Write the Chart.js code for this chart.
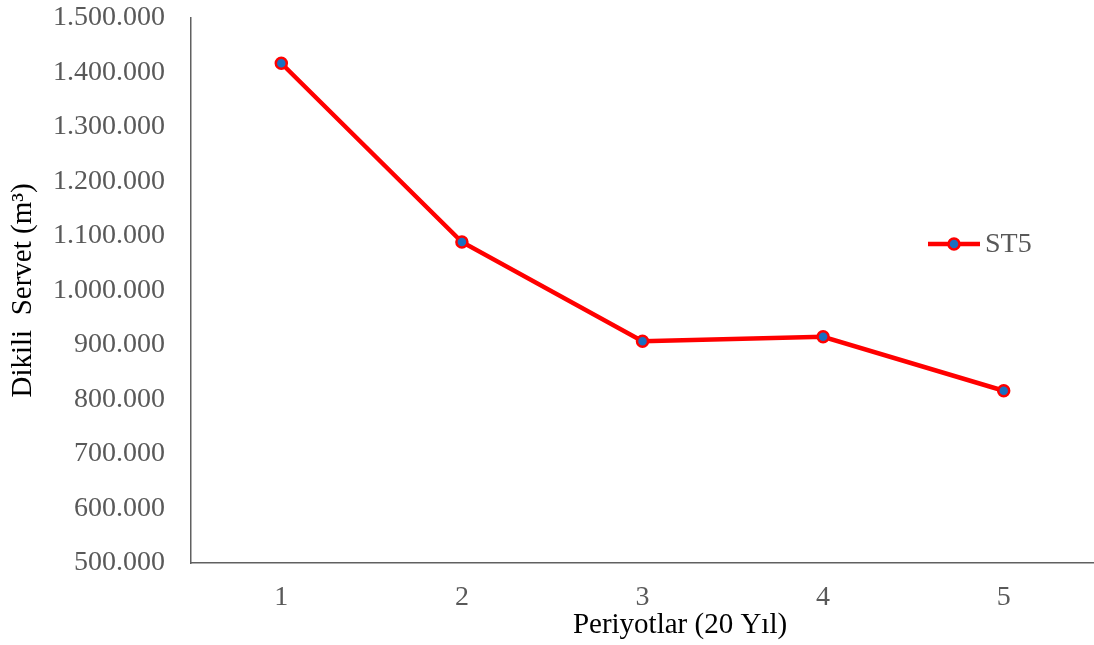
<!DOCTYPE html>
<html lang="tr">
<head>
  <meta charset="UTF-8" />
  <title>Dikili Servet - ST5</title>
  <script src="https://cdn.jsdelivr.net/npm/chart.js"></script>
  <style>
    html, body { margin: 0; padding: 0; background: #fff; }
    #wrap { width: 1094px; height: 645px; }
  </style>
</head>
<body>
<div id="wrap"><canvas id="chart"></canvas></div>
<script>
  // Daten
  const periods = ['1', '2', '3', '4', '5'];
  const st5 = [1417000, 1089000, 907000, 915000, 816000];
  const seriesName = 'ST5';
  const xTitle = 'Periyotlar (20 Yıl)';
  const yTitle = 'Dikili  Servet (m³)';

  const serif = '"Liberation Serif", "Times New Roman", serif';
  const grey = '#595959';

  function fmt(v) {
    return v.toString().replace(/\B(?=(\d{3})+(?!\d))/g, '.');
  }

  // Legende innerhalb der Plotfläche + x-Titel (leicht nach rechts versetzt wie im Original)
  const extras = {
    id: 'extras',
    afterDraw(chart) {
      const ctx = chart.ctx;
      const x0 = 928, x1 = 980, y = 244;
      ctx.save();
      ctx.strokeStyle = '#ff0000';
      ctx.lineWidth = 4.5;
      ctx.beginPath();
      ctx.moveTo(x0, y);
      ctx.lineTo(x1, y);
      ctx.stroke();
      ctx.beginPath();
      ctx.arc((x0 + x1) / 2, y, 5.5, 0, Math.PI * 2);
      ctx.fillStyle = '#1a6fc0';
      ctx.fill();
      ctx.lineWidth = 2.5;
      ctx.stroke();
      ctx.fillStyle = grey;
      ctx.font = '28px ' + serif;
      ctx.textBaseline = 'middle';
      ctx.fillText(seriesName, 985, y + 1);

      ctx.fillStyle = '#000';
      ctx.font = '29px ' + serif;
      ctx.textAlign = 'center';
      ctx.fillText(xTitle, 680, 625);
      ctx.restore();
    }
  };

  new Chart(document.getElementById('chart'), {
    type: 'line',
    data: {
      labels: periods,
      datasets: [{
        label: seriesName,
        data: st5,
        borderColor: '#ff0000',
        borderWidth: 4.5,
        pointRadius: 5.5,
        pointBackgroundColor: '#1a6fc0',
        pointBorderColor: '#ff0000',
        pointBorderWidth: 2.5,
        tension: 0
      }]
    },
    options: {
      responsive: true,
      maintainAspectRatio: false,
      animation: false,
      layout: { autoPadding: false, padding: { top: 0, right: -1, bottom: 0, left: 0 } },
      plugins: { legend: { display: false }, tooltip: { enabled: false } },
      scales: {
        x: {
          offset: true,
          afterFit: s => { s.height = 82; s.paddingLeft = 0; s.paddingRight = 0; },
          grid: { display: false, drawTicks: false },
          border: { color: '#606060', width: 1.5 },
          ticks: { color: grey, font: { family: serif, size: 28 }, padding: 18 }
        },
        y: {
          min: 500000, max: 1500000,
          afterFit: s => { s.width = 191; s.paddingTop = 18; s.paddingBottom = 0; },
          grid: { display: false, drawTicks: false },
          border: { color: '#606060', width: 1.5 },
          ticks: {
            stepSize: 100000, color: grey, padding: 26,
            font: { family: serif, size: 28 },
            callback: v => fmt(v)
          },
          title: {
            display: true, text: yTitle, color: '#000',
            font: { family: serif, size: 29 }, padding: { top: 6, bottom: 0 }
          }
        }
      }
    },
    plugins: [extras]
  });
</script>
</body>
</html>
